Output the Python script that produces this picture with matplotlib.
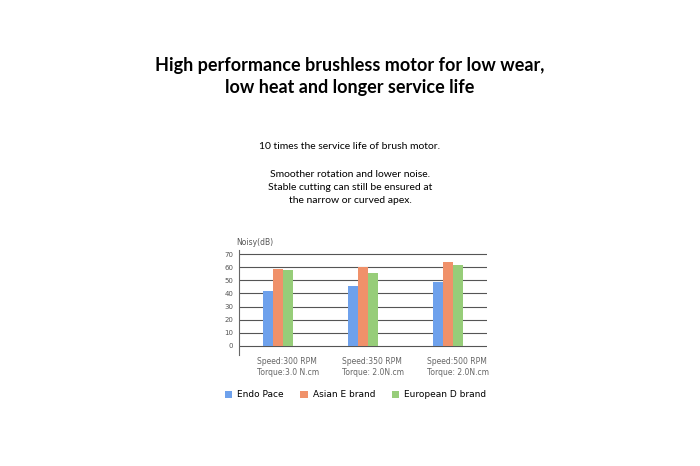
import numpy as np
from matplotlib import pyplot as plt
from matplotlib.transforms import blended_transform_factory

categories = ['Speed:300 RPM\nTorque:3.0 N.cm', 'Speed:350 RPM\nTorque: 2.0N.cm', 'Speed:500 RPM\nTorque: 2.0N.cm']
series = ['Endo Pace', 'Asian E brand', 'European D brand']
endo = [42, 46, 49]
asian = [59, 60, 64]
european = [58, 56, 62]
colors = ['#6ea1ec', '#f0916a', '#97cd79']
yticks = [0, 10, 20, 30, 40, 50, 60, 70]

fig = plt.figure(figsize=(7, 4.66), dpi=100)
fig.text(0.5, 0.835, 'High performance brushless motor for low wear,\nlow heat and longer service life',
         ha='center', va='center', fontsize=13, fontweight='bold', family='Lato', linespacing=1.35)
fig.text(0.5, 0.686, '10 times the service life of brush motor.', ha='center', va='center', fontsize=7.5, family='Lato')
fig.text(0.5, 0.597, 'Smoother rotation and lower noise.\nStable cutting can still be ensured at\nthe narrow or curved apex.',
         ha='center', va='center', fontsize=7.5, family='Lato', linespacing=1.6)

ax = fig.add_axes([239/700, 0.238, 248/700, 0.225])
x = np.arange(len(categories))
w = 0.12
for i, (vals, name) in enumerate(zip([endo, asian, european], series)):
    ax.bar(x + (i - 1) * w, vals, w, color=colors[i], label=name, zorder=3)

ax.set_ylim(-7, 73)
ax.set_xlim(-0.46, 2.46)
ax.set_yticks(yticks)
ax.tick_params(axis='y', length=0, labelsize=5, labelcolor='#555555', pad=4)
ax.set_xticks([])
ax.grid(axis='y', color='#555555', linewidth=0.8, zorder=0)
for s in ['top', 'right', 'bottom']:
    ax.spines[s].set_visible(False)
ax.spines['left'].set_color('#666666')
ax.text(-0.012, 1.03, 'Noisy(dB)', transform=ax.transAxes, fontsize=5.5, color='#555555', ha='left', va='bottom')

tr = blended_transform_factory(ax.transData, ax.transAxes)
for xi, c in zip(x, categories):
    ax.text(xi - 0.25, -0.02, c, transform=tr, fontsize=5.5, color='#666666', ha='left', va='top', linespacing=1.3)

fig.legend(loc='center', bbox_to_anchor=(0.508, 0.153), ncol=3, frameon=False, fontsize=6.5,
           handlelength=0.8, handleheight=0.8, columnspacing=1.8, handletextpad=0.6)

fig.savefig('out.png', dpi=100, facecolor='white')
